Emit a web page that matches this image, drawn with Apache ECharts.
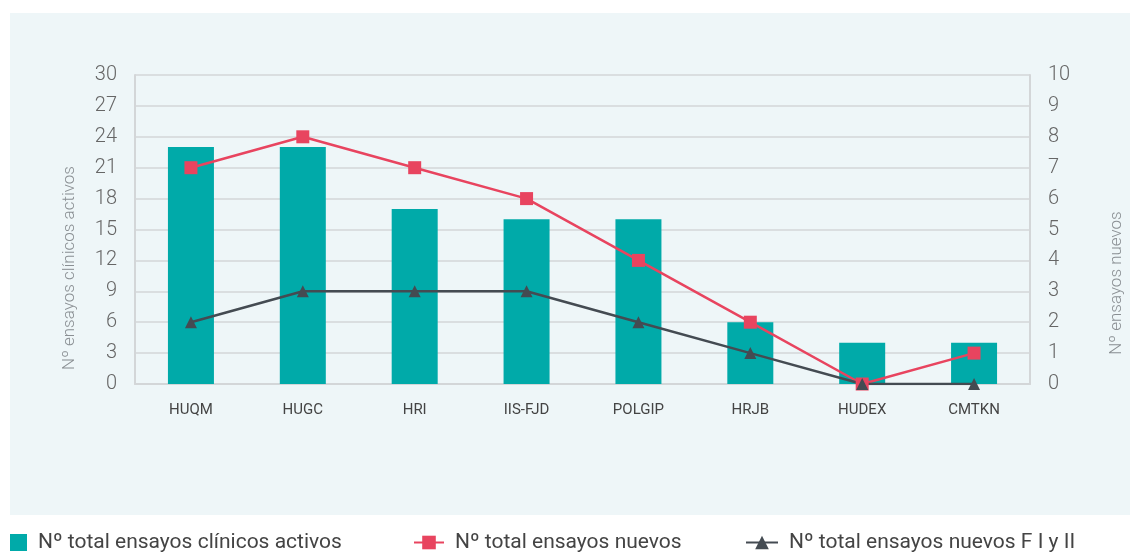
<!DOCTYPE html>
<html>
<head>
<meta charset="utf-8">
<script src="https://cdn.jsdelivr.net/npm/echarts@6/dist/echarts.min.js"></script>
<style>
  html, body { margin: 0; padding: 0; background: #fff; }
  #chart { width: 1130px; height: 553px; }
</style>
</head>
<body>
<div id="chart"></div>
<script>
const categories = ['HUQM', 'HUGC', 'HRI', 'IIS-FJD', 'POLGIP', 'HRJB', 'HUDEX', 'CMTKN'];
const activeTrials = [23, 23, 17, 16, 16, 6, 4, 4];
const newTrials = [7, 8, 7, 6, 4, 2, 0, 1];
const newPhaseTrials = [2, 3, 3, 3, 2, 1, 0, 0];

const names = ['Nº total ensayos clínicos activos', 'Nº total ensayos nuevos', 'Nº total ensayos nuevos F I y II'];
const leftAxisName = 'Nº ensayos clínicos activos';
const rightAxisName = 'Nº ensayos nuevos';

const font = 'Roboto, "Noto Sans", sans-serif';
const gridColor = '#d3d6d8';

const chart = echarts.init(document.getElementById('chart'));

const legendBase = {
  top: 532,
  padding: 0,
  itemHeight: 17,
  textStyle: { fontFamily: font, fontSize: 21, color: '#444', padding: [0, 0, 0, 6] },
  itemGap: 0
};

const axisNameStyle = { fontFamily: font, fontSize: 17, fill: '#8a8f93', fontWeight: 300 };

chart.setOption({
  backgroundColor: '#ffffff',
  animation: false,
  graphic: [{
    type: 'rect',
    z: -10,
    shape: { x: 10, y: 13, width: 1120, height: 502 },
    style: { fill: '#eef6f8' }
  }, {
    // left axis title
    type: 'text',
    x: 70, y: 268,
    rotation: Math.PI / 2,
    style: Object.assign({ text: leftAxisName, align: 'center', verticalAlign: 'middle' }, axisNameStyle)
  }, {
    // right axis title
    type: 'text',
    x: 1117, y: 283,
    rotation: Math.PI / 2,
    style: Object.assign({ text: rightAxisName, align: 'center', verticalAlign: 'middle' }, axisNameStyle)
  }],
  legend: [
    Object.assign({}, legendBase, { left: 10, itemWidth: 17, icon: 'rect', data: [names[0]] }),
    Object.assign({}, legendBase, { left: 413, itemWidth: 30, data: [names[1]] }),
    Object.assign({}, legendBase, { left: 745, itemWidth: 32, data: [names[2]] })
  ],
  grid: { left: 135, right: 100, top: 75, bottom: 169 },
  xAxis: {
    type: 'category',
    data: categories,
    axisLine: { lineStyle: { color: gridColor, width: 2 } },
    axisTick: { show: false },
    axisLabel: { margin: 19, fontFamily: font, fontSize: 15, color: '#444' }
  },
  yAxis: [{
    type: 'value',
    min: 0, max: 30, interval: 3,
    axisLine: { show: true, lineStyle: { color: gridColor, width: 2 } },
    axisTick: { show: false },
    splitLine: { lineStyle: { color: gridColor, width: 1.5 } },
    axisLabel: { margin: 18, fontFamily: font, fontSize: 20, color: '#666', fontWeight: 300 }
  }, {
    type: 'value',
    min: 0, max: 10, interval: 1,
    position: 'right',
    axisLine: { show: true, lineStyle: { color: gridColor, width: 2 } },
    axisTick: { show: false },
    splitLine: { show: false },
    axisLabel: { margin: 18, fontFamily: font, fontSize: 20, color: '#666', fontWeight: 300 }
  }],
  series: [{
    name: names[0],
    type: 'bar',
    data: activeTrials,
    barWidth: 46,
    itemStyle: { color: '#00aaa9' }
  }, {
    name: names[1],
    type: 'line',
    yAxisIndex: 1,
    data: newTrials,
    symbol: 'rect',
    symbolSize: 13,
    lineStyle: { color: '#e8445f', width: 2.5 },
    itemStyle: { color: '#e8445f' }
  }, {
    name: names[2],
    type: 'line',
    yAxisIndex: 1,
    data: newPhaseTrials,
    symbol: 'triangle',
    symbolSize: 12,
    lineStyle: { color: '#444b52', width: 2.5 },
    itemStyle: { color: '#444b52' }
  }]
});
</script>
</body>
</html>
